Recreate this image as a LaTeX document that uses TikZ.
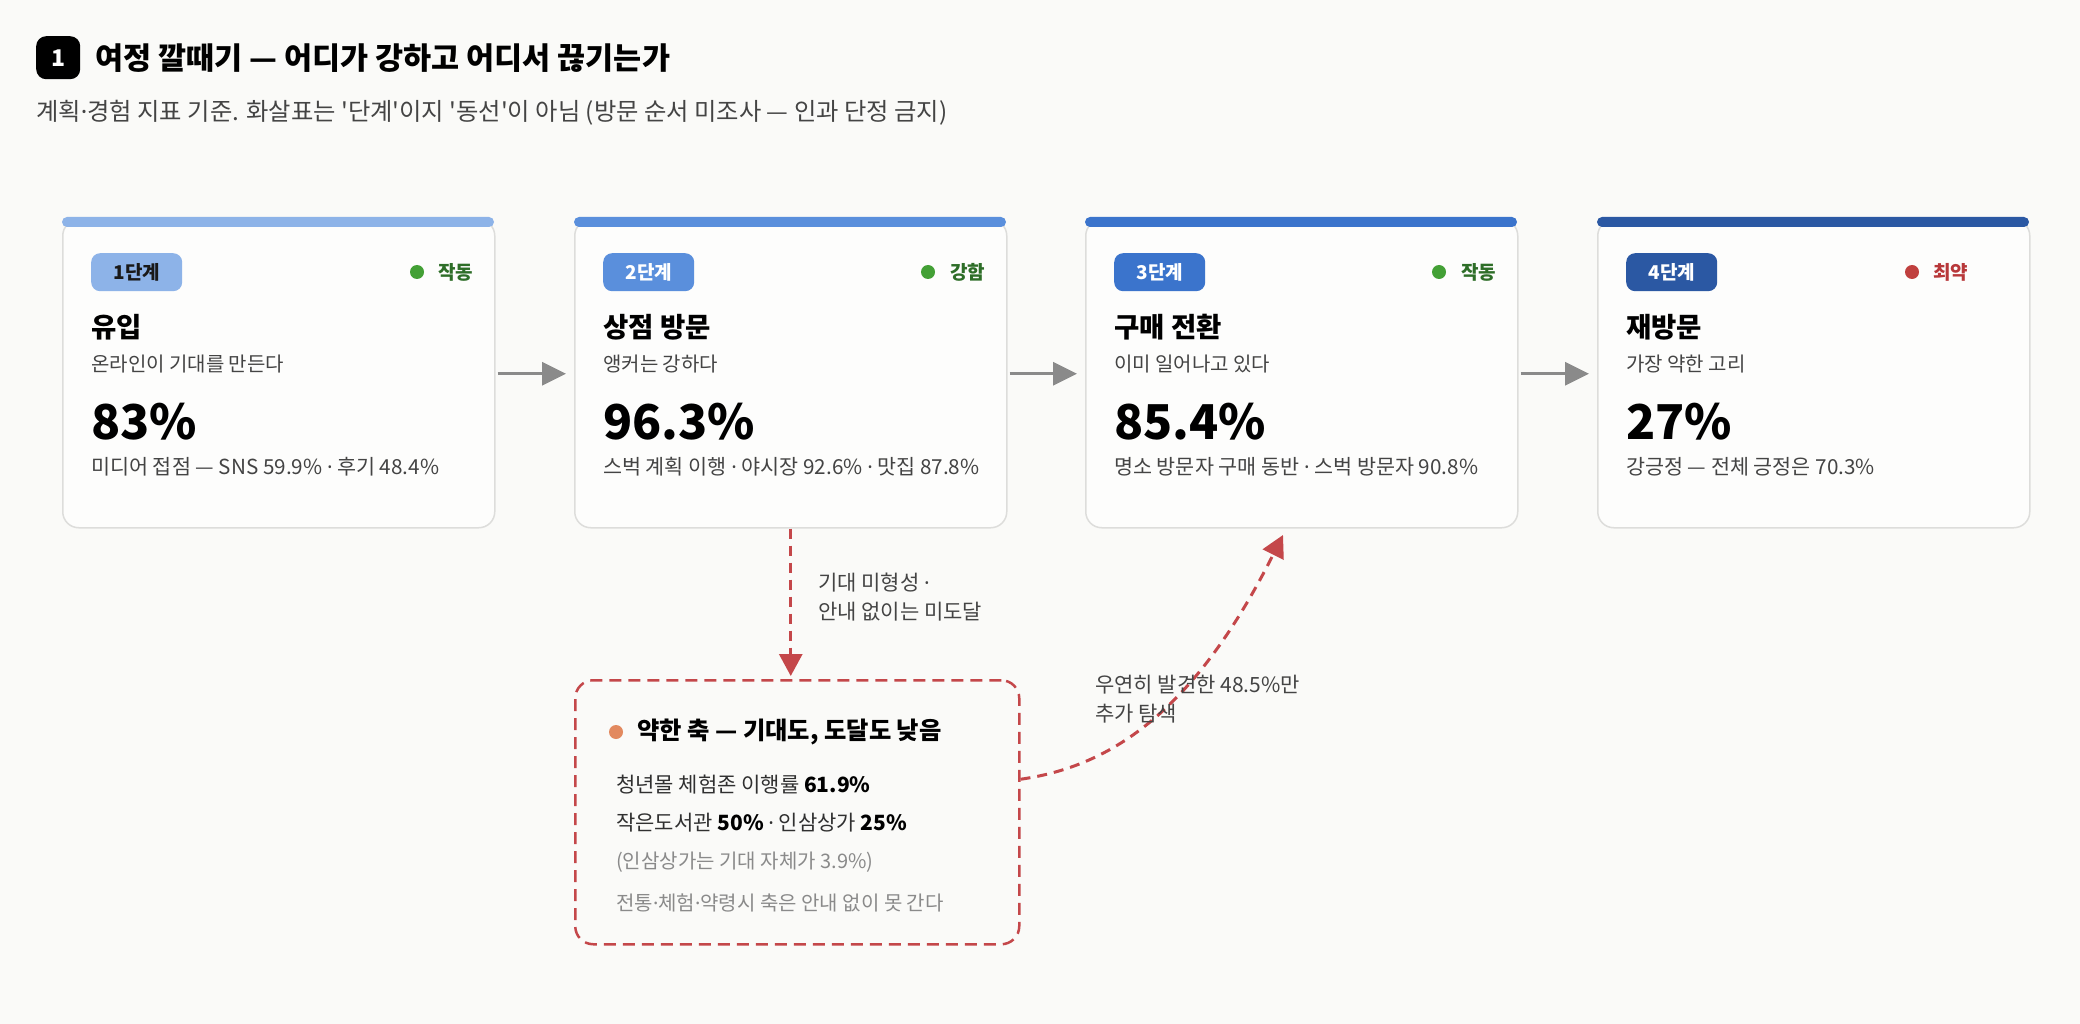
\documentclass[tikz,border=0pt]{standalone}
\usepackage{fontspec}
\setmainfont{Noto Sans CJK KR}[Ligatures=TeXOff]
\newfontfamily\dotfont{Noto Sans}
\newcommand{\md}{{\dotfont ·}}
\usepackage{tikz}
\usetikzlibrary{arrows.meta}
\usetikzlibrary{positioning,calc}
\usepackage{xcolor}
\definecolor{pagebg}{HTML}{FAFAF8}
\definecolor{cardbg}{HTML}{FDFDFC}
\definecolor{cardline}{HTML}{DDDDDB}
\definecolor{barA}{HTML}{8DB3E8}
\definecolor{barB}{HTML}{5A8FDC}
\definecolor{barC}{HTML}{3B74CC}
\definecolor{barD}{HTML}{2B58A3}
\definecolor{okdot}{HTML}{43A035}
\definecolor{oktext}{HTML}{2E6E28}
\definecolor{baddot}{HTML}{C0403E}
\definecolor{badtext}{HTML}{B8383A}
\definecolor{weakred}{HTML}{C4474A}
\definecolor{weakdot}{HTML}{E2895F}
\definecolor{flowgray}{HTML}{8A8A8A}
\definecolor{subgray}{HTML}{444444}
\definecolor{softgray}{HTML}{8A8A8A}
\tikzset{
    stage/.style={
        draw=cardline,
        fill=cardbg,
        line width=1.5pt,
        rounded corners=16pt,
        minimum width=432pt,
        minimum height=308pt,
        inner sep=0pt,
        anchor=north west
    },
    badge/.style={
        rounded corners=9pt,
        minimum width=91pt,
        minimum height=38pt,
        inner sep=0pt,
        anchor=north west,
        font=\fontsize{19}{22}\selectfont\bfseries
    },
    txt/.style={
        inner sep=0pt,
        anchor=west
    }
}

\begin{document}
\begin{tikzpicture}[
    x = 1pt,
    y = -1pt,
    status/.style = {txt, font=\fontsize{19}{22}\selectfont\bfseries},
    stagetitle/.style = {txt, font=\fontsize{27.5}{31}\selectfont\bfseries},
    stagesub/.style = {txt, text=subgray, font=\fontsize{20}{23}\selectfont},
    stagenum/.style = {txt, font=\fontsize{48}{52}\selectfont\bfseries},
    stagedetail/.style = {txt, text=subgray, font=\fontsize{20.7}{24}\selectfont},
    note/.style = {txt, align=left, text=subgray, font=\fontsize{21}{29}\selectfont},
    flow/.style = {draw=flowgray, line width=3pt, -{Triangle[length=24pt, width=23pt]},
                   shorten <=2pt, shorten >=8pt},
    weakflow/.style = {draw=weakred, line width=3pt, dash pattern=on 10pt off 7pt,
                       -{Triangle[length=22pt, width=23pt]}}
]
% Page and margins
\fill[pagebg] (0,0) rectangle (2080,1024);
\useasboundingbox (0,0) rectangle (2080,1024);

% Heading
\node[fill=black, rounded corners=10pt, minimum width=44pt, minimum height=43pt,
      inner sep=0pt, anchor=north west, text=white,
      font=\fontsize{23}{25}\selectfont\bfseries] (num) at (36,36) {1};
\node[txt, font=\fontsize{30.5}{34}\selectfont\bfseries] (heading) at (95,58)
      {여정 깔때기 — 어디가 강하고 어디서 끊기는가};
\node[txt, text=subgray, font=\fontsize{24.3}{28}\selectfont] (caption) at (36,113)
      {계획\md 경험 지표 기준. 화살표는 '단계'이지 '동선'이 아님 (방문 순서 미조사 — 인과 단정 금지)};

% Stage cards
\node[stage] (stage1) at (62,219) {};
\node[stage] (stage2) at (574,219) {};
\node[stage] (stage3) at (1085,219) {};
\node[stage] (stage4) at (1597,219) {};
\fill[barA, rounded corners=5pt] (62,217) rectangle (494,227);
\fill[barB, rounded corners=5pt] (574,217) rectangle (1006,227);
\fill[barC, rounded corners=5pt] (1085,217) rectangle (1517,227);
\fill[barD, rounded corners=5pt] (1597,217) rectangle (2029,227);

% Stage 1
\node[badge, fill=barA, text=black!90] (badge1) at (91,253) {1단계};
\fill[okdot] (417,272) circle (7pt);
\node[status, text=oktext] (state1) at (438,272) {작동};
\node[stagetitle] (title1) at (91,327) {유입};
\node[stagesub] (sub1) at (91,364) {온라인이 기대를 만든다};
\node[stagenum] (rate1) at (91,422) {83\%};
\node[stagedetail] (detail1) at (91,467) {미디어 접점 — SNS 59.9\% \md{} 후기 48.4\%};

% Stage 2
\node[badge, fill=barB, text=white] (badge2) at (603,253) {2단계};
\fill[okdot] (928,272) circle (7pt);
\node[status, text=oktext] (state2) at (950,272) {강함};
\node[stagetitle] (title2) at (603,327) {상점 방문};
\node[stagesub] (sub2) at (603,364) {앵커는 강하다};
\node[stagenum] (rate2) at (603,422) {96.3\%};
\node[stagedetail] (detail2) at (603,467) {스벅 계획 이행 \md{} 야시장 92.6\% \md{} 맛집 87.8\%};

% Stage 3
\node[badge, fill=barC, text=white] (badge3) at (1114,253) {3단계};
\fill[okdot] (1439,272) circle (7pt);
\node[status, text=oktext] (state3) at (1461,272) {작동};
\node[stagetitle] (title3) at (1114,327) {구매 전환};
\node[stagesub] (sub3) at (1114,364) {이미 일어나고 있다};
\node[stagenum] (rate3) at (1114,422) {85.4\%};
\node[stagedetail] (detail3) at (1114,467) {명소 방문자 구매 동반 \md{} 스벅 방문자 90.8\%};

% Stage 4
\node[badge, fill=barD, text=white] (badge4) at (1626,253) {4단계};
\fill[baddot] (1912,272) circle (7pt);
\node[status, text=badtext] (state4) at (1933,272) {최약};
\node[stagetitle] (title4) at (1626,327) {재방문};
\node[stagesub] (sub4) at (1626,364) {가장 약한 고리};
\node[stagenum] (rate4) at (1626,422) {27\%};
\node[stagedetail] (detail4) at (1626,467) {강긍정 — 전체 긍정은 70.3\%};

% Weak axis box
\node[draw=weakred, line width=2.5pt, dash pattern=on 12pt off 7pt, rounded corners=18pt,
      minimum width=444pt, minimum height=264pt, anchor=north west] (weak) at (574,679) {};
\fill[weakdot] (616,732) circle (7pt);
\node[txt, font=\fontsize{24.3}{27}\selectfont\bfseries] (weakhead) at (637,732)
      {약한 축 — 기대도, 도달도 낮음};
\node[txt, text=subgray!70!black, font=\fontsize{21}{24}\selectfont] (weak1) at (616,785)
      {청년몰 체험존 이행률 \textcolor{black}{\textbf{61.9\%}}};
\node[txt, text=subgray!70!black, font=\fontsize{21}{24}\selectfont] (weak2) at (616,823)
      {작은도서관 \textcolor{black}{\textbf{50\%}} \md{} 인삼상가 \textcolor{black}{\textbf{25\%}}};
\node[txt, text=softgray, font=\fontsize{20}{23}\selectfont] (weak3) at (616,862)
      {(인삼상가는 기대 자체가 3.9\%)};
\node[txt, text=softgray, font=\fontsize{20}{23}\selectfont] (weak4) at (616,903)
      {전통\md 체험\md 약령시 축은 안내 없이 못 간다};

% Stage arrows
\path[flow] (stage1) -- (stage2);
\path[flow] (stage2) -- (stage3);
\path[flow] (stage3) -- (stage4);

% Drop-off and side route
\coordinate (found) at (1283,535);
\path[weakflow, shorten >=3pt] (stage2.south) -- (stage2.south |- weak.north);
\node[note] (droplabel) at (818,597) {기대 미형성 \md\\안내 없이는 미도달};
\path[weakflow] ([yshift=33pt]weak.east) .. controls +(100,-14) and +(-83,165) .. (found);
\node[note] (foundlabel) at (1095,699) {우연히 발견한 48.5\%만\\추가 탐색};

\end{tikzpicture}
\end{document}
